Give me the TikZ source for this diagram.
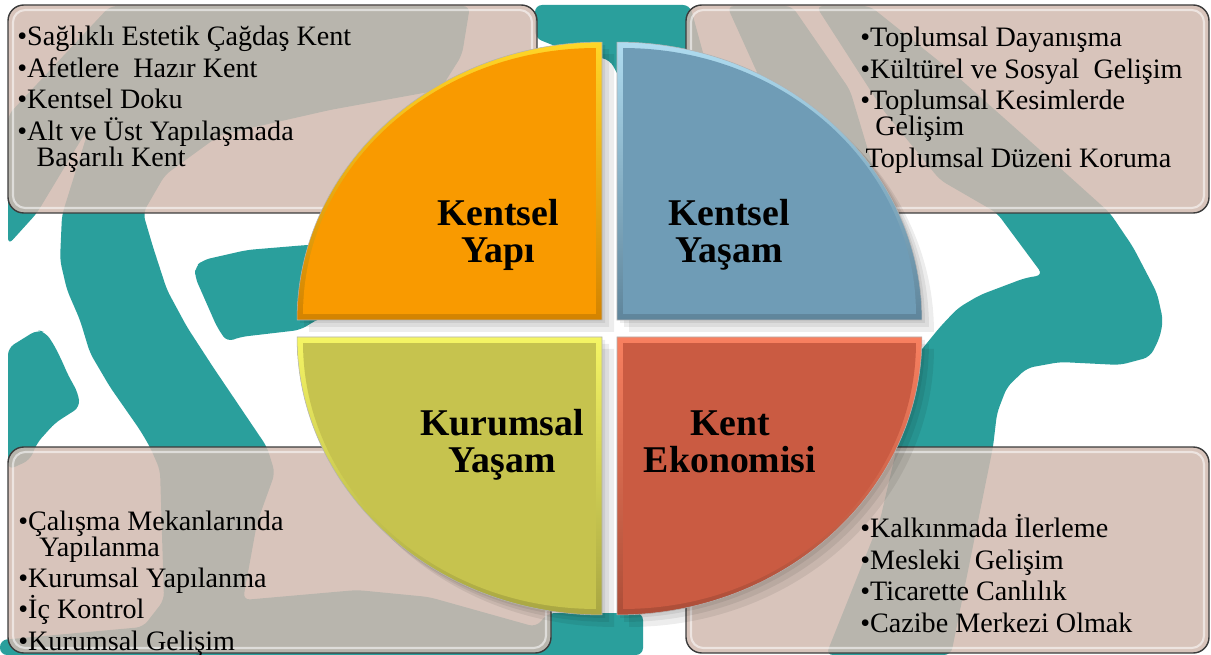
\documentclass[tikz,border=0pt]{standalone}
\usepackage{fontspec}
\setmainfont{Liberation Serif}
\usetikzlibrary{positioning}

\definecolor{swirlteal}{RGB}{42,159,156}
\definecolor{panelpink}{RGB}{210,186,176}
\definecolor{panelline}{RGB}{60,60,60}
\definecolor{orangeA}{RGB}{249,154,0}
\definecolor{orangeB}{RGB}{255,214,40}
\definecolor{blueA}{RGB}{111,156,182}
\definecolor{blueB}{RGB}{175,220,240}
\definecolor{yellowA}{RGB}{198,195,78}
\definecolor{yellowB}{RGB}{245,245,100}
\definecolor{redA}{RGB}{202,91,66}
\definecolor{redB}{RGB}{248,128,96}

\newcommand\listfont{\fontsize{16}{14.8}\selectfont\lineskiplimit=-20pt}
\newcommand\quadfont{\bfseries\fontsize{21.5}{21}\selectfont\lineskiplimit=-20pt}

\begin{document}
\begin{tikzpicture}[
  x=0.02cm, y=-0.02cm,
  swirl/.style={fill=swirlteal, rounded corners=4pt},
  panel/.style={draw=panelline, line width=0.8pt, fill=panelpink, fill opacity=0.85, rounded corners=9pt},
  gloss/.style={draw=white, draw opacity=0.55, line width=1.2pt, rounded corners=7pt},
  listtext/.style={anchor=north west, inner sep=0pt, align=left, font=\listfont},
  quadlabel/.style={anchor=north, inner sep=0pt, align=center, font=\quadfont},
  qshadow/.style={fill=black, fill opacity=0.07}
]

% --- Canvas ------------------------------------------------------------------
\useasboundingbox (0,0) rectangle (1211,655);
\fill[white] (0,0) rectangle (1211,655);

% --- Background swirl ----------------------------------------------------------
% big left stroke: top band, diagonal, bottom sweep
\fill[swirl] (110,6) -- (470,6) -- (462,55) -- (440,90) -- (330,110) -- (220,135)
  -- (165,175) -- (143,213) -- (153,247) -- (167,290) -- (187,327) -- (213,367)
  -- (240,407) -- (267,447) -- (275,473) -- (257,523) -- (243,600) -- (357,590)
  -- (429,597) -- (536,627) -- (548,613) -- (643,613) -- (643,655) -- (0,655)
  -- (0,640) -- (143,627) -- (164,600) -- (160,470) -- (150,447) -- (140,430)
  -- (110,387) -- (90,353) -- (80,320) -- (67,290) -- (60,260) -- (62,215)
  -- (90,125) -- (37,213) -- (8,245) -- (8,115) -- cycle;
% left arm behind the orange quadrant
\fill[swirl] (195,267) -- (203,260) -- (247,250) -- (307,245) -- (420,240) -- (420,316)
  -- (320,318) -- (300,330) -- (240,337) -- (227,342) -- (217,327) -- (195,277) -- cycle;
% lower left piece
\fill[swirl] (8,348) -- (37,330) -- (45,332) -- (53,343) -- (63,363) -- (67,373)
  -- (78,393) -- (80,407) -- (55,423) -- (37,443) -- (30,460) -- (8,470) -- cycle;
% top centre
\fill[swirl] (535,5) -- (690,5) -- (705,60) -- (700,230) -- (610,60)
  -- (565,50) -- (535,38) -- cycle;
\fill[swirl] (727,6) -- (792,6) -- (850,90) -- (880,190) -- (810,200) -- (765,90) -- cycle;
% right hook
\fill[swirl] (816,6) -- (870,6) -- (950,70) -- (1040,150) -- (1110,213) -- (1133,247)
  -- (1157,293) -- (1163,320) -- (1160,337) -- (1150,357) -- (1120,365) -- (1060,362)
  -- (1027,368) -- (1007,387) -- (997,413) -- (993,447) -- (951,655) -- (826,655)
  -- (880,520) -- (897,447) -- (880,400) -- (927,343) -- (940,327) -- (958,308)
  -- (980,295) -- (1025,278) -- (1043,275) -- (997,213) -- (940,180) -- (883,110) -- cycle;

% --- Text panels -----------------------------------------------------------------
\draw[panel] (8,5)    rectangle (537,213);
\draw[panel] (686,5)  rectangle (1209,213);
\draw[panel] (8,447)  rectangle (551,653);
\draw[panel] (686,447) rectangle (1209,653);

\draw[gloss] (13,10)   rectangle (532,208);
\draw[gloss] (691,10)  rectangle (1204,208);
\draw[gloss] (13,452)  rectangle (546,648);
\draw[gloss] (691,452) rectangle (1204,648);

% --- Four quadrants (shadow, bevel rim, face) ------------------------------------
\foreach \cx/\cy/\sa/\ea/\ca/\cb in {602/320/180/90/orangeA/orangeB,
    617/320/90/0/blueA/blueB, 602/337/180/270/yellowA/yellowB, 617/337/0/-90/redA/redB}{
  \pgfmathsetmacro\qmid{(\sa+\ea)/2}
  \foreach \s in {3,7,12}{
    \fill[qshadow] ([shift={(\s*0.02cm,-\s*0.02cm)}]\cx,\cy) -- ++(\sa:6.1cm and 5.56cm)
      arc[start angle=\sa, end angle=\ea, x radius=6.1cm, y radius=5.56cm] -- cycle;
  }
  \shade[top color=\cb, bottom color=\ca!85!black, draw=black!30, line width=0.3pt]
    (\cx,\cy) -- ++(\sa:6.1cm and 5.56cm)
    arc[start angle=\sa, end angle=\ea, x radius=6.1cm, y radius=5.56cm] -- cycle;
  \fill[\ca] ([shift={(\qmid:0.17cm)}]\cx,\cy) -- ++(\sa:5.86cm and 5.32cm)
    arc[start angle=\sa, end angle=\ea, x radius=5.86cm, y radius=5.32cm] -- cycle;
}

% --- Quadrant titles ---------------------------------------------------------------
\node[quadlabel] (yapiLbl)  at (498,195) {\rule{0pt}{17pt}Kentsel\\Yapı};
\node[quadlabel] (yasamLbl) at (729,195) {\rule{0pt}{17pt}Kentsel\\Yaşam};
\node[quadlabel] (kurumLbl) at (502,405) {\rule{0pt}{17pt}Kurumsal\\Yaşam};
\node[quadlabel] (ekonLbl)  at (730,405) {\rule{0pt}{17pt}Kent\\Ekonomisi};

% --- Panel lists -------------------------------------------------------------------
\node[listtext] (yapiList) at (17,20.4)
{\rule{0pt}{14pt}•Sağlıklı Estetik Çağdaş Kent\\[3.3pt]
 •Afetlere\ \ Hazır Kent\\[3.3pt]
 •Kentsel Doku\\[3.3pt]
 •Alt ve Üst Yapılaşmada\\
 \hspace*{11pt}Başarılı Kent};

\node[listtext] (yasamList) at (860,21.4)
{\rule{0pt}{14pt}•Toplumsal Dayanışma\\[3.3pt]
 •Kültürel ve Sosyal\ \ Gelişim\\[3.3pt]
 •Toplumsal Kesimlerde\\
 \hspace*{8.5pt}Gelişim\\[3.3pt]
 \hspace*{3pt}Toplumsal Düzeni Koruma};

\node[listtext] (kurumList) at (18,505.4)
{\rule{0pt}{14pt}•Çalışma Mekanlarında\\
 \hspace*{12pt}Yapılanma\\[3pt]
 •Kurumsal Yapılanma\\[3pt]
 •İç Kontrol\\[3pt]
 •Kurumsal Gelişim};

\node[listtext] (ekonList) at (860,512.4)
{\rule{0pt}{14pt}•Kalkınmada İlerleme\\[3.3pt]
 •Mesleki\ \ Gelişim\\[3.3pt]
 •Ticarette Canlılık\\[3.3pt]
 •Cazibe Merkezi Olmak};

\end{tikzpicture}
\end{document}
